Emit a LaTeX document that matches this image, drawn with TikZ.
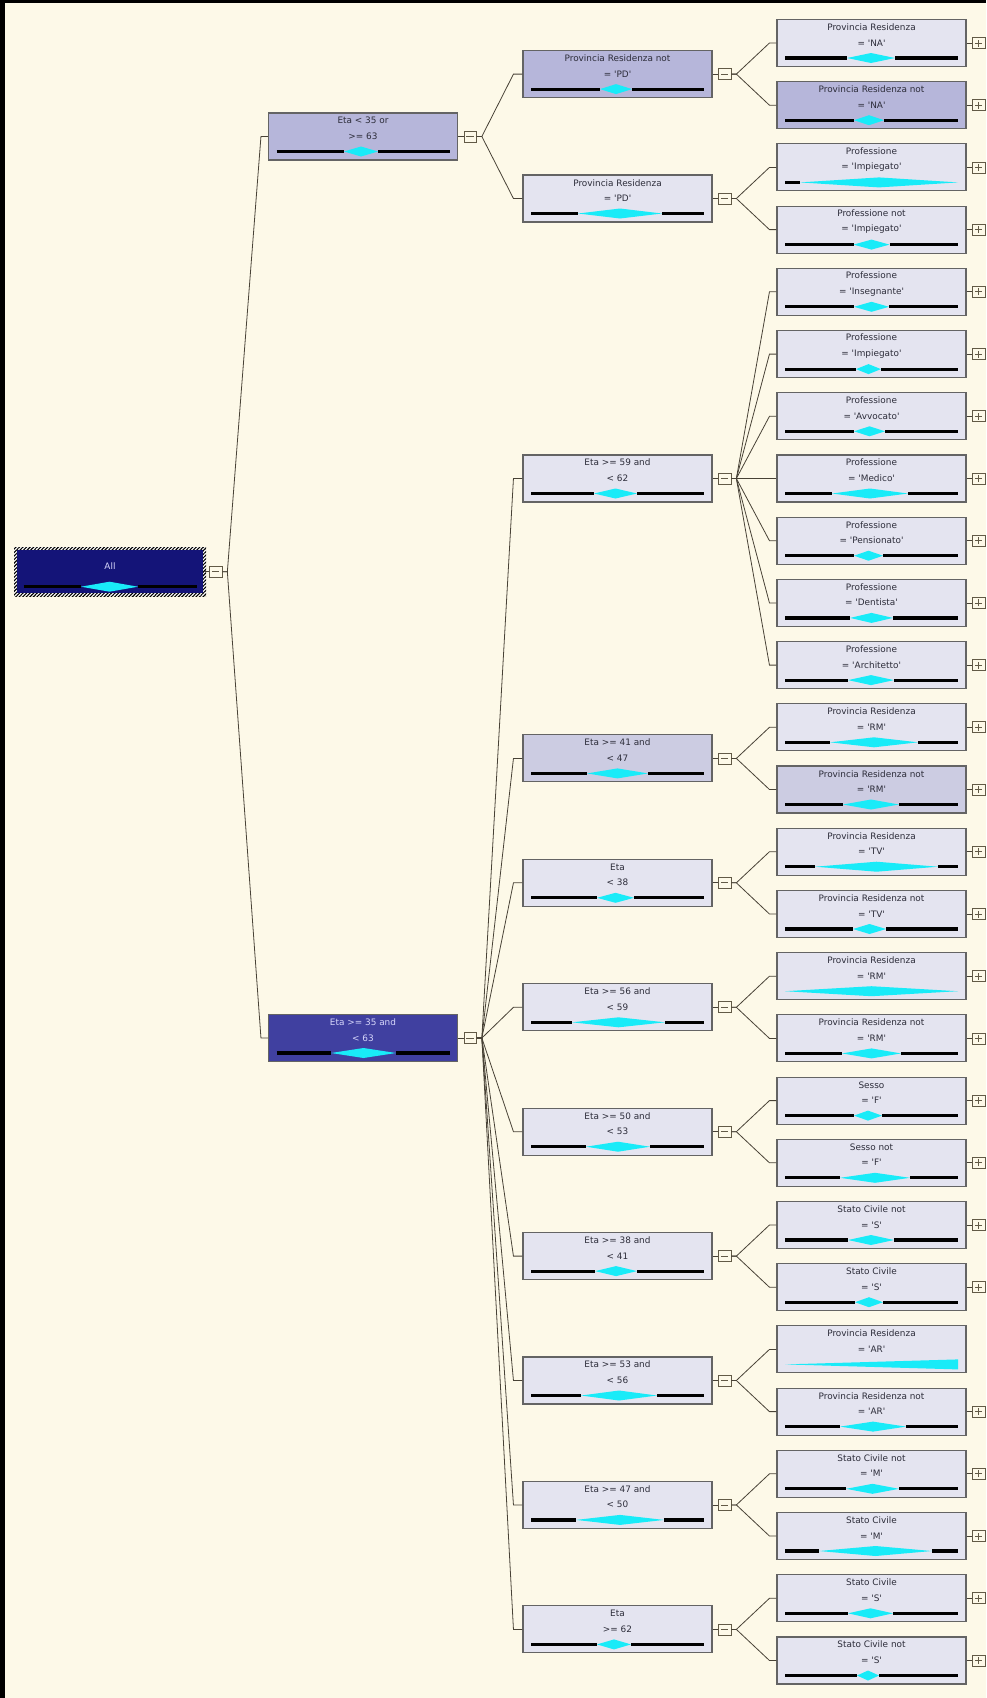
\documentclass[tikz,border=0pt]{standalone}
\usepackage{fontspec}
\setmainfont{DejaVu Sans}
\usetikzlibrary{positioning,patterns.meta}

\definecolor{bgcream}{RGB}{253,249,232}
\definecolor{nlight}{RGB}{228,228,240}
\definecolor{nmidl}{RGB}{204,204,226}
\definecolor{nmid}{RGB}{182,182,218}
\definecolor{ndark}{RGB}{64,64,160}
\definecolor{nroot}{RGB}{20,20,120}
\definecolor{ntext}{RGB}{45,45,58}
\definecolor{rtext}{RGB}{214,214,250}
\definecolor{nborder}{RGB}{100,100,100}
\definecolor{diamc}{RGB}{25,235,248}
\definecolor{linkc}{RGB}{72,66,54}
\definecolor{boxc}{RGB}{98,90,70}

\newcommand{\qv}[1]{\textquotesingle#1\textquotesingle}

\tikzset{
  nodebox/.style={draw=nborder, line width=1.1pt, minimum width=189pt, minimum height=47pt, inner sep=0pt},
  lightbox/.style={fill=nlight, text=ntext},
  midlbox/.style={fill=nmidl, text=ntext},
  midbox/.style={fill=nmid, text=ntext},
  darkbox/.style={fill=ndark, text=rtext},
  rootbox/.style={fill=nroot, draw=none, text=rtext, minimum width=186pt, minimum height=43pt},
  nodetext/.style={align=center, font=\fontsize{8.9}{15.6}\selectfont, inner sep=0pt},
  bar/.style={line width=3.2pt, black},
  diam/.style={fill=diamc},
  link/.style={draw=linkc, line width=0.8pt},
  xbox/.style={draw=boxc, line width=0.8pt, fill=bgcream, minimum width=12.5pt, minimum height=11pt, inner sep=0pt},
  boxminus/.style={xbox, path picture={
      \draw[boxc, line width=0.8pt] ([xshift=2.5pt]path picture bounding box.west) -- ([xshift=-2.5pt]path picture bounding box.east);}},
  boxplus/.style={xbox, path picture={
      \draw[boxc, line width=0.8pt] ([xshift=2.5pt]path picture bounding box.west) -- ([xshift=-2.5pt]path picture bounding box.east);
      \draw[boxc, line width=0.8pt] ([yshift=2pt]path picture bounding box.south) -- ([yshift=-2pt]path picture bounding box.north);}},
  boxnone/.style={xbox, draw=none, fill=none},
  boxminusstub/.style={},
  boxplusstub/.style={},
  boxnonestub/.style={draw=none},
}

% #1 name, #2 centre, #3 look, #4 #5 text lines, #6 #7 diamond tips, #8 box
\newcommand{\dtnode}[8]{%
  \node[nodebox,#3] (#1) at (#2) {};
  \node[nodetext,#3,draw=none,fill=none] at ([yshift=-16pt]#1.north)
    {\if\relax\detokenize{#5}\relax #4\else #4\\#5\fi};
  \pgfmathsetmacro\dmid{(#6+#7)/2}
  \pgfmathsetmacro\dright{min(#7,86.5)}
  \begin{scope}
    \clip ([xshift=-86.5pt,yshift=-9.5pt]#1.center) rectangle ([xshift=86.5pt,yshift=-20.5pt]#1.center);
    \fill[diam] ([xshift=#6pt,yshift=-15pt]#1.center) -- ([xshift=\dmid pt,yshift=-10pt]#1.center)
      -- ([xshift=#7pt,yshift=-15pt]#1.center) -- ([xshift=\dmid pt,yshift=-20pt]#1.center) -- cycle;
  \end{scope}
  \draw[bar] ([xshift=-86.5pt,yshift=-15pt]#1.center) -- ([xshift=#6pt,yshift=-15pt]#1.center);
  \draw[bar] ([xshift=\dright pt,yshift=-15pt]#1.center) -- ([xshift=86.5pt,yshift=-15pt]#1.center);
  \node[box#8, right=5.5pt of #1] (#1-b) {};
  \draw[link,box#8stub] (#1.east) -- (#1-b.west);
}

\begin{document}
\begin{tikzpicture}[x=1pt,y=-1pt]
	\useasboundingbox (0,0) rectangle (986,1698);
	\fill[bgcream] (0,0) rectangle (986,1698);
	\fill[black] (0,0) rectangle (986,3);
	\fill[black] (0,0) rectangle (5,1698);

	% root
	\fill[preaction={fill=white}, pattern={Lines[angle=45,distance=2.5pt,line width=1.1pt]}] (14,547.3) rectangle (206,596);
	\dtnode{all}{110,571.7}{rootbox}{All}{}{-29}{28}{minus}

	% first split
	\dtnode{eta-a}{363,136.5}{midbox}{Eta < 35 or}{>= 63}{-19}{15}{minus}
	\dtnode{eta-b}{363,1038}{darkbox}{Eta >= 35 and}{< 63}{-32}{33}{minus}

	% second split
	\dtnode{pd-not}{617.5,74.1}{midbox}{Provincia Residenza not}{= \qv{PD}}{-17.5}{14.5}{minus}
	\dtnode{pd}{617.5,198.5}{lightbox}{Provincia Residenza}{= \qv{PD}}{-39.5}{44.5}{minus}
	\dtnode{e59}{617.5,478.5}{lightbox}{Eta >= 59 and}{< 62}{-23.5}{19.5}{minus}
	\dtnode{e41}{617.5,758.4}{midlbox}{Eta >= 41 and}{< 47}{-30.5}{30.5}{minus}
	\dtnode{e38}{617.5,882.8}{lightbox}{Eta}{< 38}{-20.5}{16.5}{minus}
	\dtnode{e56}{617.5,1007.3}{lightbox}{Eta >= 56 and}{< 59}{-45.5}{47.5}{minus}
	\dtnode{e50}{617.5,1131.7}{lightbox}{Eta >= 50 and}{< 53}{-31.5}{32.5}{minus}
	\dtnode{e3841}{617.5,1256.1}{lightbox}{Eta >= 38 and}{< 41}{-22.5}{19.5}{minus}
	\dtnode{e53}{617.5,1380.5}{lightbox}{Eta >= 53 and}{< 56}{-36.5}{39.5}{minus}
	\dtnode{e47}{617.5,1504.9}{lightbox}{Eta >= 47 and}{< 50}{-41.5}{46.5}{minus}
	\dtnode{e62}{617.5,1629.4}{lightbox}{Eta}{>= 62}{-20.5}{13.5}{minus}

	% leaves
	\dtnode{na}{871.5,43}{lightbox}{Provincia Residenza}{= \qv{NA}}{-24.5}{23.5}{plus}
	\dtnode{na-not}{871.5,105.2}{midbox}{Provincia Residenza not}{= \qv{NA}}{-17.5}{12.5}{plus}
	\dtnode{imp}{871.5,167.4}{lightbox}{Professione}{= \qv{Impiegato}}{-71.5}{86.5}{plus}
	\dtnode{imp-not}{871.5,229.6}{lightbox}{Professione not}{= \qv{Impiegato}}{-18}{18}{plus}
	\dtnode{ins}{871.5,291.8}{lightbox}{Professione}{= \qv{Insegnante}}{-17.5}{17.5}{plus}
	\dtnode{imp2}{871.5,354.1}{lightbox}{Professione}{= \qv{Impiegato}}{-15.5}{9.5}{plus}
	\dtnode{avv}{871.5,416.3}{lightbox}{Professione}{= \qv{Avvocato}}{-17.5}{13.5}{plus}
	\dtnode{med}{871.5,478.5}{lightbox}{Professione}{= \qv{Medico}}{-39.5}{36.5}{plus}
	\dtnode{pen}{871.5,540.7}{lightbox}{Professione}{= \qv{Pensionato}}{-17.5}{11.5}{plus}
	\dtnode{den}{871.5,602.9}{lightbox}{Professione}{= \qv{Dentista}}{-21.5}{21.5}{plus}
	\dtnode{arc}{871.5,665.1}{lightbox}{Professione}{= \qv{Architetto}}{-23.5}{22.5}{plus}
	\dtnode{rm}{871.5,727.3}{lightbox}{Provincia Residenza}{= \qv{RM}}{-41.5}{46.5}{plus}
	\dtnode{rm-not}{871.5,789.5}{midlbox}{Provincia Residenza not}{= \qv{RM}}{-28.5}{27.5}{plus}
	\dtnode{tv}{871.5,851.7}{lightbox}{Provincia Residenza}{= \qv{TV}}{-56.5}{66.5}{plus}
	\dtnode{tv-not}{871.5,914}{lightbox}{Provincia Residenza not}{= \qv{TV}}{-18.5}{14.5}{plus}
	\dtnode{rm2}{871.5,976.2}{lightbox}{Provincia Residenza}{= \qv{RM}}{-86.5}{86.5}{plus}
	\dtnode{rm2-not}{871.5,1038.4}{lightbox}{Provincia Residenza not}{= \qv{RM}}{-29.5}{29.5}{plus}
	\dtnode{f}{871.5,1100.6}{lightbox}{Sesso}{= \qv{F}}{-17.5}{10.5}{plus}
	\dtnode{f-not}{871.5,1162.8}{lightbox}{Sesso not}{= \qv{F}}{-31.5}{38.5}{plus}
	\dtnode{s-not}{871.5,1225}{lightbox}{Stato Civile not}{= \qv{S}}{-23.5}{22.5}{plus}
	\dtnode{s}{871.5,1287.2}{lightbox}{Stato Civile}{= \qv{S}}{-16.5}{11.5}{plus}
	\dtnode{ar}{871.5,1349.4}{lightbox}{Provincia Residenza}{= \qv{AR}}{-86.5}{259.5}{none}
	\dtnode{ar-not}{871.5,1411.6}{lightbox}{Provincia Residenza not}{= \qv{AR}}{-31.5}{34.5}{plus}
	\dtnode{m-not}{871.5,1473.8}{lightbox}{Stato Civile not}{= \qv{M}}{-25.5}{27.5}{plus}
	\dtnode{m}{871.5,1536}{lightbox}{Stato Civile}{= \qv{M}}{-52.5}{60.5}{plus}
	\dtnode{s2}{871.5,1598.3}{lightbox}{Stato Civile}{= \qv{S}}{-23.5}{21.5}{plus}
	\dtnode{s2-not}{871.5,1660.5}{lightbox}{Stato Civile not}{= \qv{S}}{-14.5}{7.5}{plus}

	% branches
	\foreach \c in {eta-a,eta-b}
		\draw[link] (all-b.east) -- ++(5,0) -- ([xshift=-7pt]\c.west) -- (\c.west);
	\foreach \c in {pd-not,pd}
		\draw[link] (eta-a-b.east) -- ++(5,0) -- ([xshift=-9pt]\c.west) -- (\c.west);
	\foreach \c in {e59,e41,e38,e56,e50,e3841,e53,e47,e62}
		\draw[link] (eta-b-b.east) -- ++(5,0) -- ([xshift=-9pt]\c.west) -- (\c.west);
	\foreach \c in {na,na-not}
		\draw[link] (pd-not-b.east) -- ++(5,0) -- ([xshift=-7pt]\c.west) -- (\c.west);
	\foreach \c in {imp,imp-not}
		\draw[link] (pd-b.east) -- ++(5,0) -- ([xshift=-7pt]\c.west) -- (\c.west);
	\foreach \c in {ins,imp2,avv,med,pen,den,arc}
		\draw[link] (e59-b.east) -- ++(5,0) -- ([xshift=-7pt]\c.west) -- (\c.west);
	\foreach \c in {rm,rm-not}
		\draw[link] (e41-b.east) -- ++(5,0) -- ([xshift=-7pt]\c.west) -- (\c.west);
	\foreach \c in {tv,tv-not}
		\draw[link] (e38-b.east) -- ++(5,0) -- ([xshift=-7pt]\c.west) -- (\c.west);
	\foreach \c in {rm2,rm2-not}
		\draw[link] (e56-b.east) -- ++(5,0) -- ([xshift=-7pt]\c.west) -- (\c.west);
	\foreach \c in {f,f-not}
		\draw[link] (e50-b.east) -- ++(5,0) -- ([xshift=-7pt]\c.west) -- (\c.west);
	\foreach \c in {s-not,s}
		\draw[link] (e3841-b.east) -- ++(5,0) -- ([xshift=-7pt]\c.west) -- (\c.west);
	\foreach \c in {ar,ar-not}
		\draw[link] (e53-b.east) -- ++(5,0) -- ([xshift=-7pt]\c.west) -- (\c.west);
	\foreach \c in {m-not,m}
		\draw[link] (e47-b.east) -- ++(5,0) -- ([xshift=-7pt]\c.west) -- (\c.west);
	\foreach \c in {s2,s2-not}
		\draw[link] (e62-b.east) -- ++(5,0) -- ([xshift=-7pt]\c.west) -- (\c.west);
\end{tikzpicture}
\end{document}
